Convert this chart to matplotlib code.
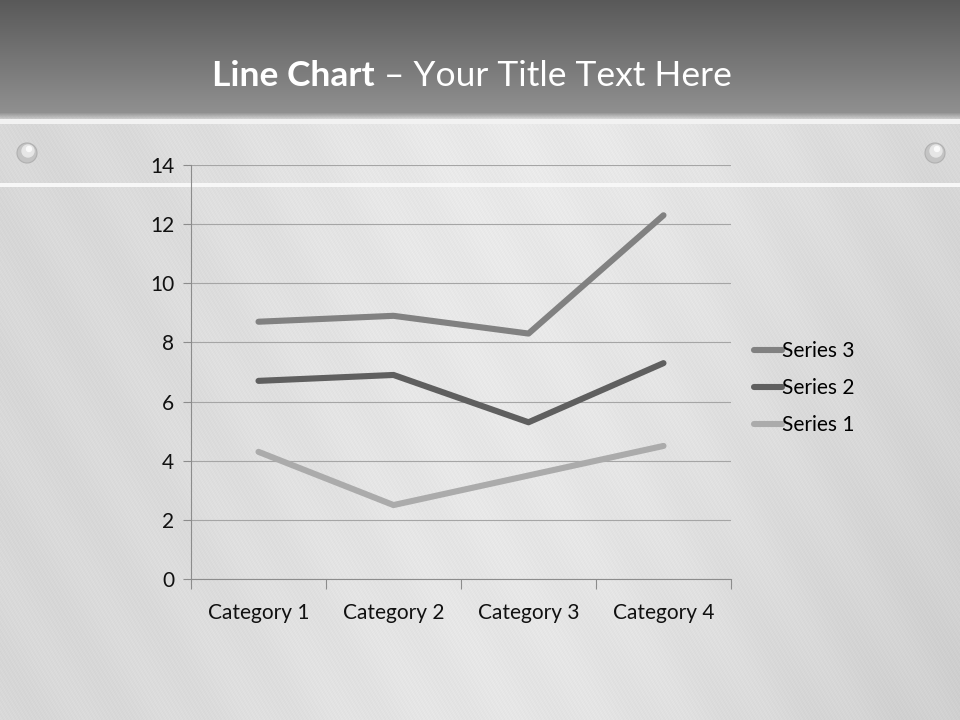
import numpy as np
import matplotlib.pyplot as plt
from matplotlib.patches import Circle

# stacked line chart, raw series values (plotted cumulatively)
categories = ["Category 1", "Category 2", "Category 3", "Category 4"]
series_names = ["Series 1", "Series 2", "Series 3"]
series_1 = [4.3, 2.5, 3.5, 4.5]
series_2 = [2.4, 4.4, 1.8, 2.8]
series_3 = [2.0, 2.0, 3.0, 5.0]
y_ticks = [0, 2, 4, 6, 8, 10, 12, 14]

colors = ["#ababab", "#5f5f5f", "#818181"]
FONT = "Lato"
FS = 15

W, H = 960, 720
fig = plt.figure(figsize=(9.6, 7.2), dpi=100)

# --- background: dark title band + brushed metal ---
bg = fig.add_axes([0, 0, 1, 1])
yy, xx = np.mgrid[0:H, 0:W].astype(float)
metal = 0.84 + 0.08 * np.exp(-((xx - 520) / 330) ** 2) - 0.04 * (yy / H) * (xx / W)
d = 1.7 * xx - yy
metal += 0.008 * np.sin(d * 0.9) + 0.006 * np.sin(d * 2.3 + 0.7) + 0.006 * np.sin(d * 0.043 + 1.3)
band = 0.35 + 0.22 * (yy / 115.0)
img = np.where(yy < 115, band, metal)
blend = (yy >= 112) & (yy < 120)
img = np.where(blend, band + (metal - band) * (yy - 112) / 8.0, img)
img[119:124, :] = 0.95
img[183:187, :] = 0.97
img = np.clip(img, 0, 1)
bg.imshow(np.dstack([img, img, img]), extent=(0, W, H, 0), aspect="auto")
bg.set_xlim(0, W)
bg.set_ylim(H, 0)
bg.axis("off")
for sx in (27, 935):
    bg.add_patch(Circle((sx, 153), 10, color="#c4c4c4", ec="#b0b0b0", lw=0.8))
    bg.add_patch(Circle((sx + 1, 151), 6, color="#e6e6e6"))
    bg.add_patch(Circle((sx + 2, 149), 2.5, color="#fafafa"))

# --- title ---
renderer = fig.canvas.get_renderer()
ty = 1 - 76 / H
t1 = fig.text(0, ty, "Line Chart", color="white", fontsize=25.5, fontweight="bold",
              family=FONT, va="center")
t2 = fig.text(0, ty, " \u2013 Your Title Text Here", color="white", fontsize=25.5,
              family=FONT, va="center")
w1 = t1.get_window_extent(renderer).width
w2 = t2.get_window_extent(renderer).width
x0 = 472 - (w1 + w2) / 2
t1.set_x(x0 / W)
t2.set_x((x0 + w1) / W)

# --- chart ---
ax = fig.add_axes([191 / W, 1 - 579 / H, 540 / W, 414 / H])
ax.patch.set_alpha(0)
x = np.arange(len(categories))
stacked = np.cumsum([series_1, series_2, series_3], axis=0)
lines = []
for name, vals, c in zip(series_names, stacked, colors):
    ln, = ax.plot(x, vals, color=c, lw=4.4, solid_capstyle="round",
                  solid_joinstyle="round", label=name, zorder=3)
    lines.append(ln)

ax.set_xlim(-0.5, len(categories) - 0.5)
ax.set_ylim(0, 14)
ax.set_yticks(y_ticks)
ax.yaxis.grid(True, color="#a5a5a5", lw=0.8)
ax.set_axisbelow(True)
ax.set_xticks(x)
ax.set_xticklabels(categories)
ax.set_xticks(np.arange(-0.5, len(categories), 1.0), minor=True)
ax.tick_params(axis="x", which="major", length=0, pad=17)
ax.tick_params(axis="x", which="minor", length=7, color="#8c8c8c", width=0.8)
ax.tick_params(axis="y", length=6, color="#8c8c8c", width=0.8, pad=6)
for lab in ax.get_xticklabels() + ax.get_yticklabels():
    lab.set_fontfamily(FONT)
    lab.set_fontsize(FS)
    lab.set_color("#111111")
for s in ("top", "right"):
    ax.spines[s].set_visible(False)
ax.spines["left"].set_color("#8c8c8c")
ax.spines["bottom"].set_color("#8c8c8c")
ax.spines["left"].set_linewidth(0.8)
ax.spines["bottom"].set_linewidth(0.8)

fig.legend(lines[::-1], [l.get_label() for l in lines[::-1]],
           loc="center left", bbox_to_anchor=(735 / W, 1 - 388 / H),
           frameon=False, handlelength=1.35, handletextpad=0.0,
           labelspacing=0.82, prop={"family": FONT, "size": FS})

fig.savefig("out.png", dpi=100)
